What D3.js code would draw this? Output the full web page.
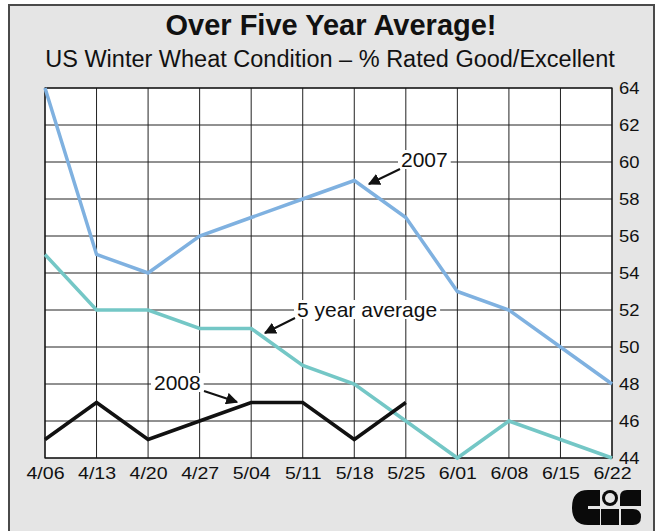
<!DOCTYPE html>
<html>
<head>
<meta charset="utf-8">
<script src="https://cdn.jsdelivr.net/npm/d3@7"></script>
<style>
html,body{margin:0;padding:0;background:#fff;}
svg{display:block;font-family:"Liberation Sans",Arial,Helvetica,sans-serif;}
</style>
</head>
<body>
<svg id="chart" width="657" height="531"></svg>
<script>
const weeks = ["4/06","4/13","4/20","4/27","5/04","5/11","5/18","5/25","6/01","6/08","6/15","6/22"];
const y2007 = [64,55,54,56,57,58,59,57,53,52,50,48];
const yAvg5 = [55,52,52,51,51,49,48,46,44,46,45,44];
const y2008 = [45,47,45,46,47,47,45,47];
const yTicks = [44,46,48,50,52,54,56,58,60,62,64];
const titleText = "Over Five Year Average!";
const subtitleText = "US Winter Wheat Condition \u2013 % Rated Good/Excellent";

const svg = d3.select("#chart");
const L = 45, R = 612, T = 88, B = 458;
const SX = 1.15;

// frame
svg.append("rect").attr("x",9).attr("y",5).attr("width",645).attr("height",540)
  .attr("fill","#e5e5e5").attr("stroke","#4a4a4a").attr("stroke-width",2);

svg.append("text").attr("x",331).attr("y",35).attr("text-anchor","middle")
  .style("font-size","29px").attr("font-weight","bold").attr("fill","#111").text(titleText);
svg.append("text").attr("x",330).attr("y",67).attr("text-anchor","middle")
  .style("font-size","23.5px").attr("fill","#111").text(subtitleText);

const x = d3.scalePoint().domain(weeks).range([L,R]);
const y = d3.scaleLinear().domain([44,64]).range([B,T]);

svg.append("rect").attr("x",L).attr("y",T).attr("width",R-L).attr("height",B-T).attr("fill","#fff");

const grid = svg.append("g").attr("stroke","#222").attr("stroke-width",1);
grid.selectAll("line.v").data(weeks).join("line").attr("class","v")
  .attr("x1",d=>x(d)).attr("x2",d=>x(d)).attr("y1",T).attr("y2",B);
grid.selectAll("line.h").data(yTicks).join("line").attr("class","h")
  .attr("x1",L).attr("x2",R).attr("y1",d=>y(d)).attr("y2",d=>y(d));
svg.append("rect").attr("x",L).attr("y",T).attr("width",R-L).attr("height",B-T)
  .attr("fill","none").attr("stroke","#111").attr("stroke-width",1.2);

// axes
const ya = svg.append("g").attr("transform",`translate(${R},0)`)
  .call(d3.axisRight(y).tickValues(yTicks).tickSize(0).tickPadding(7).tickFormat(d3.format("d")));
ya.select(".domain").remove();
ya.selectAll("text").style("font-size","16px").attr("fill","#111")
  .attr("font-family","Liberation Sans, Arial, sans-serif")
  .attr("x", 7/SX).attr("transform",`scale(${SX},1)`);

const xa = svg.append("g").attr("transform",`translate(0,${B})`)
  .call(d3.axisBottom(x).tickSize(0).tickPadding(9));
xa.select(".domain").remove();
xa.selectAll("text").style("font-size","17px").attr("fill","#111")
  .attr("font-family","Liberation Sans, Arial, sans-serif")
  .attr("transform",`scale(${SX},1)`);

// lines
const line = d3.line().x((d,i)=>x(weeks[i])).y(d=>y(d));
function drawLine(data,color){
  svg.append("path").datum(data).attr("d",line).attr("fill","none")
    .attr("stroke",color).attr("stroke-width",3.5).attr("stroke-linejoin","miter");
}
drawLine(yAvg5,"#74c7c6");
drawLine(y2007,"#7fb1e0");
drawLine(y2008,"#111");

// annotations
const defs = svg.append("defs");
defs.append("marker").attr("id","arr").attr("viewBox","0 0 10 10").attr("refX",9).attr("refY",5)
  .attr("markerWidth",6).attr("markerHeight",6).attr("markerUnits","strokeWidth").attr("orient","auto")
  .append("path").attr("d","M0,0 L10,5 L0,10 z").attr("fill","#111");

function annotate(label, tx, ty, sx, sy, ex, ey){
  const t = svg.append("text").attr("x",tx).attr("y",ty).style("font-size","21px").attr("fill","#111").text(label);
  const bb = t.node().getBBox();
  svg.insert("rect", () => t.node()).attr("x",bb.x-3).attr("y",bb.y+2).attr("width",bb.width+6).attr("height",bb.height-4).attr("fill","#fff");
  svg.append("line").attr("x1",sx).attr("y1",sy).attr("x2",ex).attr("y2",ey)
    .attr("stroke","#111").attr("stroke-width",2).attr("marker-end","url(#arr)");
}
annotate("2007", 401, 167, 400, 169, 369, 184);
annotate("5 year average", 297, 317, 295, 318, 265, 333);
annotate("2008", 154, 390, 204, 391, 237, 402);

// logo (CIS-like)
const logo = svg.append("g").attr("fill","#0a0a0a");
logo.append("path").attr("d","M588,490 L600,490 L600,506 L588,506 L588,509 L600,509 L600,525 L588,525 Q572,525 572,507.5 Q572,490 588,490 Z");
logo.append("circle").attr("cx",610).attr("cy",498).attr("r",8);
logo.append("circle").attr("cx",610).attr("cy",498).attr("r",5).attr("fill","#e5e5e5");
logo.append("path").attr("d","M627,490 L641,490 L641,506 L620,506 L620,497 Q620,490 627,490 Z");
logo.append("rect").attr("x",601).attr("y",509).attr("width",18).attr("height",16);
logo.append("path").attr("d","M621,509 L633,509 Q641,509 641,517 Q641,525 633,525 L621,525 Z");
</script>
</body>
</html>
